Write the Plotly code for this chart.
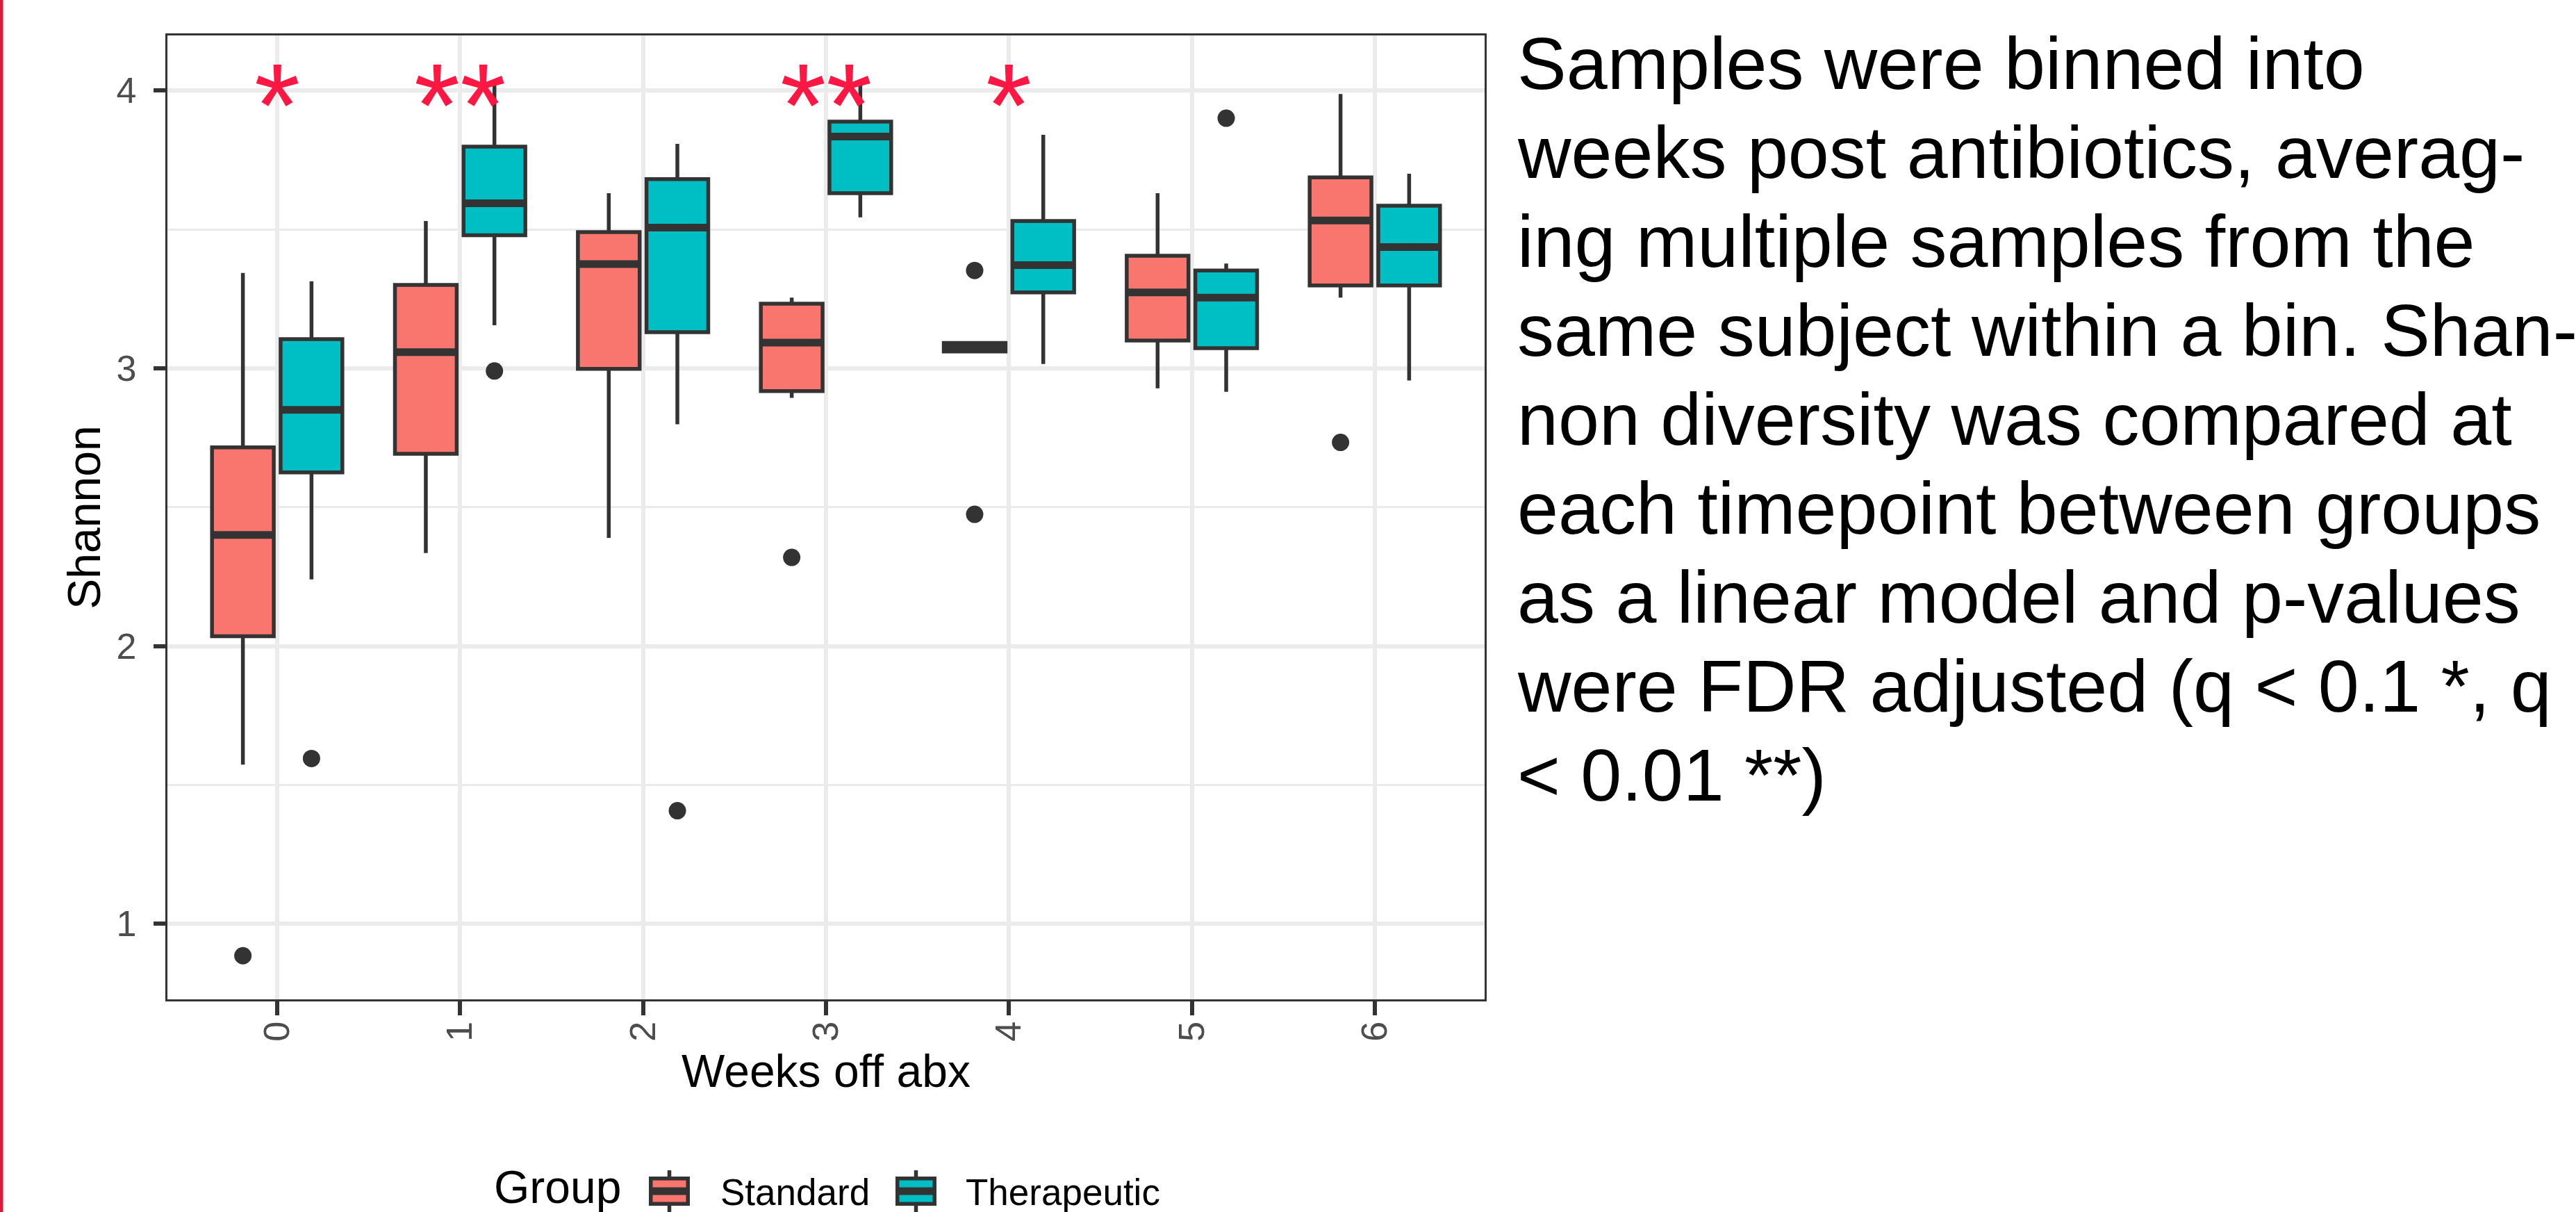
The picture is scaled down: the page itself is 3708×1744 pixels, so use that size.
import plotly.graph_objects as go

# ---------------- data ----------------
weeks = [0, 1, 2, 3, 4, 5, 6]
week_labels = ["0", "1", "2", "3", "4", "5", "6"]

std_q1 = [2.035, 2.692, 2.998, 2.918, 3.060, 3.100, 3.298]
std_median = [2.400, 3.058, 3.375, 3.092, 3.075, 3.273, 3.532]
std_q3 = [2.715, 3.300, 3.490, 3.232, 3.091, 3.405, 3.687]
std_lower = [1.573, 2.335, 2.389, 2.893, 3.060, 2.928, 3.254]
std_upper = [3.343, 3.530, 3.630, 3.254, 3.091, 3.630, 3.987]
std_out_week = [0, 3, 4, 4, 6]
std_out_val = [0.885, 2.319, 3.352, 2.474, 2.733]

ther_q1 = [2.625, 3.479, 3.130, 3.630, 3.273, 3.072, 3.298]
ther_median = [2.850, 3.594, 3.506, 3.834, 3.371, 3.254, 3.436]
ther_q3 = [3.105, 3.798, 3.681, 3.888, 3.530, 3.352, 3.585]
ther_lower = [2.240, 3.155, 2.798, 3.543, 3.015, 2.915, 2.956]
ther_upper = [3.313, 4.040, 3.808, 4.020, 3.840, 3.377, 3.700]
ther_out_week = [0, 1, 2, 5]
ther_out_val = [1.595, 2.990, 1.407, 3.900]

sig_weeks = [0, 1, 3, 4]
sig_labels = ["*", "**", "**", "*"]
sig_y = 4

group_names = ["Standard", "Therapeutic"]
legend_title = "Group"

caption_lines = [
    "Samples were binned into",
    "weeks post antibiotics, averag-",
    "ing multiple samples from the",
    "same subject within a bin. Shan-",
    "non diversity was compared at",
    "each timepoint between groups",
    "as a linear model and p-values",
    "were FDR adjusted (q < 0.1 *, q",
    "< 0.01 **)",
]

# ---------------- style ----------------
W, H = 3708, 1744
ML, MR, MT, MB = 241, W - 2137, 51, H - 1438
PW, PH = W - ML - MR, H - MT - MB
FONT = "Liberation Sans, Arial, Helvetica, sans-serif"
COLORS = ["#F8766D", "#00BFC4"]
OUTLINE = "#333333"
DODGE = 0.1875
BOXW = 0.3375
LW = 5.5


def px_x(p):
    return (p - ML) / PW


def px_y(p):
    return (MT + PH - p) / PH


fig = go.Figure()

groups = [
    (group_names[0], COLORS[0], -DODGE, std_q1, std_median, std_q3, std_lower, std_upper, std_out_week, std_out_val),
    (group_names[1], COLORS[1], DODGE, ther_q1, ther_median, ther_q3, ther_lower, ther_upper, ther_out_week, ther_out_val),
]

for name, col, off, q1, med, q3, lo, hi, ow, ov in groups:
    xs = [w + off for w in weeks]
    fig.add_trace(go.Box(
        name=name, x=xs, q1=q1, median=med, q3=q3, lowerfence=lo, upperfence=hi,
        width=BOXW, fillcolor=col, line=dict(color=OUTLINE, width=LW),
        whiskerwidth=0, boxpoints=False, showlegend=False,
    ))
for name, col, off, q1, med, q3, lo, hi, ow, ov in groups:
    mx, my = [], []
    for w, m in zip(weeks, med):
        mx += [w + off - BOXW / 2, w + off + BOXW / 2, None]
        my += [m, m, None]
    fig.add_trace(go.Scatter(x=mx, y=my, mode="lines", line=dict(color=OUTLINE, width=11),
                             showlegend=False, hoverinfo="skip"))
    fig.add_trace(go.Scatter(x=[w + off for w in ow], y=ov, mode="markers",
                             marker=dict(color=OUTLINE, size=25), showlegend=False))

annotations = []
for w, s in zip(sig_weeks, sig_labels):
    annotations.append(dict(x=w, y=sig_y, xref="x", yref="y", text=s, showarrow=False,
                            font=dict(family=FONT, size=170, color="#FF1744"),
                            xanchor="center", yanchor="middle", yshift=-22))

CAP_F = 106
for i, line in enumerate(caption_lines):
    base = 128 + i * 128
    cy = base - 0.3465 * CAP_F
    annotations.append(dict(x=px_x(2182), y=px_y(cy), xref="paper", yref="paper",
                            text=line, showarrow=False, xanchor="left", yanchor="middle",
                            font=dict(family=FONT, size=CAP_F, color="black")))

# ---- legend (drawn as keys + labels) ----
annotations.append(dict(x=px_x(709), y=px_y(1708), xref="paper", yref="paper", text=legend_title,
                        showarrow=False, xanchor="left", yanchor="middle",
                        font=dict(family=FONT, size=66, color="black")))
shapes = []
key_left = [934, 1289]
text_left = [1035, 1388]
for name, col, kx, tx in zip(group_names, COLORS, key_left, text_left):
    x0, x1 = kx + 2.75, kx + 59 - 2.75
    xc = (x0 + x1) / 2
    y0, y1, ym = 1695.7, 1732.3, 1714
    shapes.append(dict(type="line", xref="paper", yref="paper", x0=px_x(xc), x1=px_x(xc),
                       y0=px_y(1684), y1=px_y(1744), line=dict(color=OUTLINE, width=LW)))
    shapes.append(dict(type="rect", xref="paper", yref="paper", x0=px_x(x0), x1=px_x(x1),
                       y0=px_y(y1), y1=px_y(y0), fillcolor=col, line=dict(color=OUTLINE, width=LW)))
    shapes.append(dict(type="line", xref="paper", yref="paper", x0=px_x(x0), x1=px_x(x1),
                       y0=px_y(ym), y1=px_y(ym), line=dict(color=OUTLINE, width=11)))
    annotations.append(dict(x=px_x(tx), y=px_y(1715), xref="paper", yref="paper", text=name,
                            showarrow=False, xanchor="left", yanchor="middle",
                            font=dict(family=FONT, size=53, color="black")))

shapes.append(dict(type="rect", xref="paper", yref="paper",
                   x0=px_x(0), x1=px_x(4.5), y0=px_y(H), y1=px_y(0),
                   fillcolor="#DE183C", line=dict(width=0), layer="above"))

fig.update_layout(
    width=W, height=H,
    margin=dict(l=ML, r=MR, t=MT, b=MB, autoexpand=False),
    paper_bgcolor="white", plot_bgcolor="white",
    font=dict(family=FONT, color="black"),
    boxmode="overlay",
    showlegend=False,
    annotations=annotations,
    shapes=shapes,
)

fig.update_xaxes(
    range=[-0.6, 6.6], tickmode="array", tickvals=weeks, ticktext=week_labels,
    tickangle=-90, ticks="outside", ticklen=20, tickwidth=5.5, tickcolor=OUTLINE,
    tickfont=dict(size=52, color="#4D4D4D"), ticklabelstandoff=-12,
    showgrid=True, gridcolor="#EBEBEB", gridwidth=5.5, zeroline=False,
    showline=True, linecolor=OUTLINE, linewidth=3.3, mirror=True,
    title=dict(text="Weeks off abx", font=dict(size=66, color="black"), standoff=20),
)
fig.update_yaxes(
    range=[0.728, 4.198], tickmode="array", tickvals=[1, 2, 3, 4],
    ticks="outside", ticklen=17, tickwidth=5.5, tickcolor=OUTLINE,
    tickfont=dict(size=52, color="#4D4D4D"), ticklabelstandoff=14,
    showgrid=True, gridcolor="#EBEBEB", gridwidth=5.5, zeroline=False,
    minor=dict(tickvals=[1.5, 2.5, 3.5], showgrid=True, gridcolor="#EBEBEB", gridwidth=2.8, ticks=""),
    showline=True, linecolor=OUTLINE, linewidth=3.3, mirror=True,
    title=dict(text="Shannon", font=dict(size=66, color="black"), standoff=2),
)

fig.write_html("out.html")
